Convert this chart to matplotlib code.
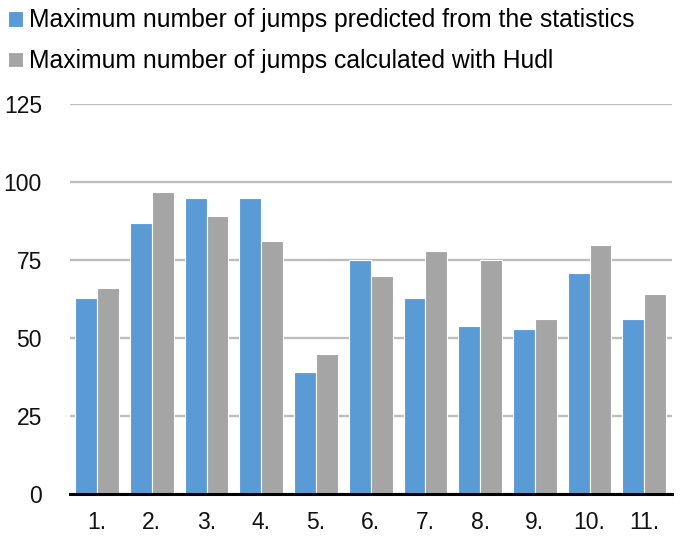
import numpy as np
import matplotlib
matplotlib.use('Agg')
import matplotlib.pyplot as plt

plt.rcParams['font.family'] = ['Liberation Sans', 'DejaVu Sans']

# jumps per player
categories = ['1.', '2.', '3.', '4.', '5.', '6.', '7.', '8.', '9.', '10.', '11.']
predicted = [63, 87, 95, 95, 39, 75, 63, 54, 53, 71, 56]
hudl = [66, 97, 89, 81, 45, 70, 78, 75, 56, 80, 64]
yticks = [0, 25, 50, 75, 100, 125]

fig = plt.figure(figsize=(6.84, 5.37), dpi=100)
ax = fig.add_axes([0.102, 0.080, 0.880, 0.726])

x = np.arange(len(categories))
w = 0.4
b1 = ax.bar(x - w / 2, predicted, w, color='#5B9BD5', edgecolor='white', linewidth=0.8,
            label='Maximum number of jumps predicted from the statistics', zorder=3)
b2 = ax.bar(x + w / 2, hudl, w, color='#A5A5A5', edgecolor='white', linewidth=0.8,
            label='Maximum number of jumps calculated with Hudl', zorder=3)

ax.set_xlim(-0.5, len(categories) - 0.5)
ax.set_ylim(0, 125)
ax.set_yticks(yticks)
ax.set_xticks(x)
ax.set_xticklabels(categories)
ax.tick_params(axis='both', length=0, labelsize=16.5, colors='#111111')
ax.tick_params(axis='y', pad=20)
ax.tick_params(axis='x', pad=12)
ax.yaxis.grid(True, color='#BDBDBD', linewidth=1.7, zorder=0)
for s in ['top', 'right', 'left']:
    ax.spines[s].set_visible(False)
ax.spines['bottom'].set_linewidth(2.2)
ax.spines['bottom'].set_color('black')
ax.spines['bottom'].set_zorder(4)

fig.legend(handles=[b1, b2], loc='upper left', bbox_to_anchor=(-0.01, 1.012),
           frameon=False, fontsize=17.8, handlelength=0.6, handleheight=0.6,
           handletextpad=0.25, labelspacing=0.68, borderaxespad=0.2)

plt.savefig('out.png', dpi=100)
